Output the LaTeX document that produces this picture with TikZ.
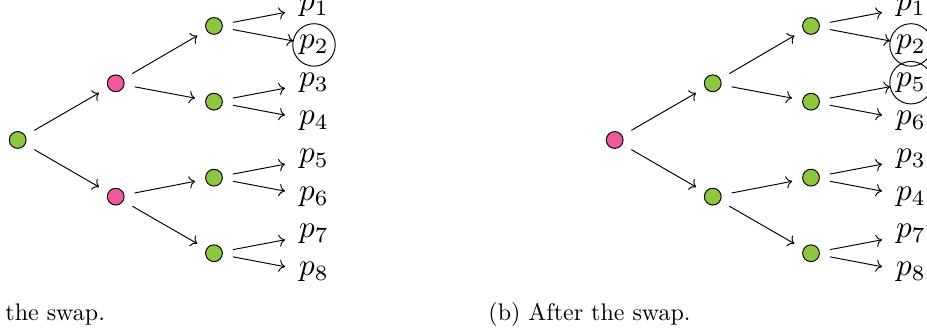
\documentclass[tikz,border=0pt]{standalone}
\usepackage{amsmath,amssymb}
\usepackage{tikz}
\usetikzlibrary{arrows.meta}
\definecolor{dotgreen}{RGB}{141,198,63}
\definecolor{dotpink}{RGB}{238,90,158}

\begin{document}
\begin{tikzpicture}[scale=1,
    gdot/.style={circle, draw, fill=dotgreen, minimum size=7pt, inner sep=0pt, outer sep=4.5pt},
    pdot/.style={gdot, fill=dotpink},
    leaf/.style={scale=1.3, outer sep=1.2pt},
    picked/.style={leaf, circle, draw, inner sep=0.8pt, outer sep=0pt},
    edge/.style={->}]
    \useasboundingbox (0,0) rectangle (13.577,4.906);

    % Before the swap
    \node[gdot] (r) at (0.259,2.856) {};
    \node[pdot] (a1) at (1.695,3.686) {};
    \node[pdot] (a2) at (1.695,2.026) {};
    \node[gdot] (b1) at (3.134,4.526) {};
    \node[gdot] (b2) at (3.134,3.417) {};
    \node[gdot] (b3) at (3.134,2.304) {};
    \node[gdot] (b4) at (3.134,1.197) {};
    \node[leaf] (l1) at (4.599,4.804) {$p_1$};
    \node[picked] (l2) at (4.599,4.248) {$p_2$};
    \node[leaf] (l3) at (4.599,3.695) {$p_3$};
    \node[leaf] (l4) at (4.599,3.139) {$p_4$};
    \node[leaf] (l5) at (4.599,2.582) {$p_5$};
    \node[leaf] (l6) at (4.599,2.026) {$p_6$};
    \node[leaf] (l7) at (4.599,1.475) {$p_7$};
    \node[leaf] (l8) at (4.599,0.919) {$p_8$};

    \draw[edge] (r) -- (a1);
    \draw[edge] (r) -- (a2);
    \draw[edge] (a1) -- (b1);
    \draw[edge] (a1) -- (b2);
    \draw[edge] (a2) -- (b3);
    \draw[edge] (a2) -- (b4);
    \draw[edge] (b1) -- (l1);
    \draw[edge] (b1) -- (l2);
    \draw[edge] (b2) -- (l3);
    \draw[edge] (b2) -- (l4);
    \draw[edge] (b3) -- (l5);
    \draw[edge] (b3) -- (l6);
    \draw[edge] (b4) -- (l7);
    \draw[edge] (b4) -- (l8);

    \node[anchor=base west, inner sep=0pt] (capa) at (0.073,0.212) {the swap.};

    % After the swap
    \begin{scope}[xshift=8.744cm]
    \node[pdot] (R) at (0.259,2.856) {};
    \node[gdot] (A1) at (1.695,3.686) {};
    \node[gdot] (A2) at (1.695,2.026) {};
    \node[gdot] (B1) at (3.134,4.526) {};
    \node[gdot] (B2) at (3.134,3.417) {};
    \node[gdot] (B3) at (3.134,2.304) {};
    \node[gdot] (B4) at (3.134,1.197) {};
    \node[leaf] (L1) at (4.599,4.804) {$p_1$};
    \node[picked] (L2) at (4.599,4.248) {$p_2$};
    \node[picked] (L5) at (4.599,3.695) {$p_5$};
    \node[leaf] (L6) at (4.599,3.139) {$p_6$};
    \node[leaf] (L3) at (4.599,2.582) {$p_3$};
    \node[leaf] (L4) at (4.599,2.026) {$p_4$};
    \node[leaf] (L7) at (4.599,1.475) {$p_7$};
    \node[leaf] (L8) at (4.599,0.919) {$p_8$};
    \end{scope}

    \draw[edge] (R) -- (A1);
    \draw[edge] (R) -- (A2);
    \draw[edge] (A1) -- (B1);
    \draw[edge] (A1) -- (B2);
    \draw[edge] (A2) -- (B3);
    \draw[edge] (A2) -- (B4);
    \draw[edge] (B1) -- (L1);
    \draw[edge] (B1) -- (L2);
    \draw[edge] (B2) -- (L5);
    \draw[edge] (B2) -- (L6);
    \draw[edge] (B3) -- (L3);
    \draw[edge] (B3) -- (L4);
    \draw[edge] (B4) -- (L7);
    \draw[edge] (B4) -- (L8);

    \node[anchor=base west, inner sep=0pt] (capb) at (7.147,0.212) {(b) After the swap.};
\end{tikzpicture}
\end{document}
